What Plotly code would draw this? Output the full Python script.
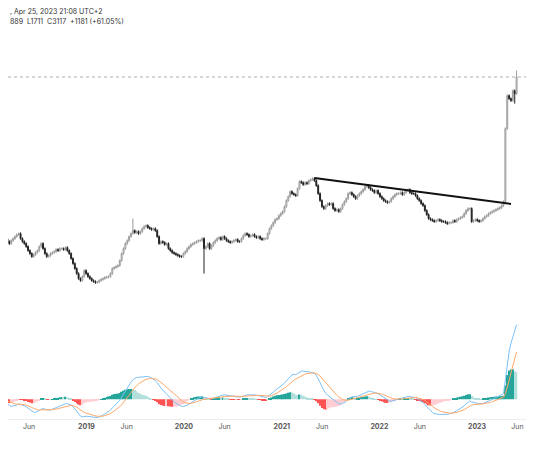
import plotly.graph_objects as go
from plotly.subplots import make_subplots
import pandas as pd

# weekly closes
closes = [
    1600, 1560, 1530, 1500, 1470, 1450, 1480, 1500, 1520, 1540, 1550,
    1500, 1470, 1450, 1420, 1380, 1350, 1320, 1340, 1360, 1380, 1420, 1450,
    1400, 1350, 1320, 1330, 1350, 1360, 1370, 1390, 1380, 1400, 1400, 1390, 1410, 1380,
    1350, 1300, 1250, 1200, 1150, 1100, 1080, 1120, 1180, 1150, 1120, 1100, 1080, 1070, 1060, 1065, 1080,
    1090, 1100, 1110, 1115, 1120, 1150, 1200, 1210, 1220, 1230, 1280, 1350, 1400, 1450, 1480, 1520, 1550, 1580,
    1560, 1570, 1550, 1570, 1600, 1620, 1630, 1610, 1600, 1590, 1600, 1580, 1520, 1450, 1470, 1460, 1440, 1450, 1400, 1380, 1360, 1350,
    1340, 1330, 1320, 1320, 1350, 1370, 1400, 1420, 1440, 1450, 1460, 1470, 1480, 1480, 1500, 1400, 1420, 1450, 1400,
    1430, 1460, 1480, 1500, 1510, 1490, 1520, 1500, 1480, 1470, 1460, 1470, 1480, 1490, 1470, 1470, 1500, 1530, 1550, 1540,
    1520, 1530, 1540, 1520, 1510, 1520, 1500, 1490, 1500, 1500,
    1550, 1600, 1630, 1660, 1690, 1700, 1730, 1750, 1770, 1820, 1880, 1920, 1970, 1950, 1940, 1930, 2000, 2070, 2060, 2040,
    2060, 2050, 2080, 2090, 2100, 2080, 2030,
    1950, 1880, 1820, 1800, 1830, 1850, 1840, 1850, 1800, 1780, 1790, 1770, 1800, 1840, 1870, 1900,
    1950, 1960, 1940, 1920, 1900, 1930, 1950, 1970, 1990, 2020, 2030, 2010, 1990, 1980, 1960, 1980, 1950, 1920, 1900,
    1880, 1870, 1860, 1870, 1900, 1920, 1940, 1950, 1950, 1960, 1940, 1960, 1980, 1990, 1960, 1950, 1950, 1930, 1900, 1880, 1850, 1830,
    1780, 1740, 1700, 1690, 1680, 1670, 1680, 1690, 1680, 1670, 1670, 1660, 1650, 1660, 1660, 1680, 1670, 1690, 1700, 1710,
    1720, 1750, 1780, 1800, 1800,
    1670, 1680, 1690, 1680, 1670, 1680, 1700, 1720, 1730, 1750, 1760, 1770, 1780, 1790, 1800, 1810, 1830, 1870,
    2600, 2930, 2900, 2880, 2980, 2950, 3117,
]
# a few long wicks: week index -> (high, low)
wicks = {71: (1700, None), 109: (None, 1150), 276: (3180, None), 275: (None, 2850), 270: (None, 1880)}
trend_idx = [168, 273]
trend_price = [2107, 1847]
tick_dates = ["2018-06-01", "2019-01-01", "2019-06-01", "2020-01-01", "2020-06-01", "2021-01-01",
              "2021-06-01", "2022-01-01", "2022-06-01", "2023-01-01", "2023-06-01"]
tick_text = ["Jun", "<b>2019</b>", "Jun", "<b>2020</b>", "Jun", "<b>2021</b>", "Jun",
             "<b>2022</b>", "Jun", "<b>2023</b>", "Jun"]

dates = pd.date_range(end="2023-05-29", periods=len(closes), freq="7D")
opens = [closes[0]] + closes[:-1]
highs, lows = [], []
for i, (o, c) in enumerate(zip(opens, closes)):
    h, l = max(o, c) + 12, min(o, c) - 12
    if i in wicks:
        wh, wl = wicks[i]
        h = wh or h
        l = wl or l
    highs.append(h)
    lows.append(l)

s = pd.Series(closes, index=dates)
macd = s.ewm(span=12, adjust=False).mean() - s.ewm(span=26, adjust=False).mean()
signal = macd.ewm(span=9, adjust=False).mean()
hist = macd - signal
hcol = []
prev = 0
for v in hist:
    if v >= 0:
        hcol.append("#26a69a" if v >= prev else "#b2dfdb")
    else:
        hcol.append("#ff5252" if v <= prev else "#ffcdd2")
    prev = v

fig = make_subplots(rows=2, cols=1, shared_xaxes=True)
fig.add_trace(go.Candlestick(
    x=dates, open=opens, high=highs, low=lows, close=closes,
    increasing=dict(line=dict(color="#9a9a9a", width=1), fillcolor="#ffffff"),
    decreasing=dict(line=dict(color="#222222", width=1), fillcolor="#222222"),
    whiskerwidth=0, showlegend=False), row=1, col=1)
fig.add_trace(go.Scatter(x=[dates[i] for i in trend_idx], y=trend_price, mode="lines",
                         line=dict(color="#111111", width=2), showlegend=False), row=1, col=1)
fig.add_hline(y=closes[-1], line=dict(color="#b0b0b0", width=1, dash="dot"), row=1, col=1)

fig.add_trace(go.Bar(x=dates, y=hist, marker_color=hcol, marker_line_width=0, showlegend=False), row=2, col=1)
fig.add_trace(go.Scatter(x=dates, y=macd, mode="lines", line=dict(color="#7cc0f5", width=1), showlegend=False), row=2, col=1)
fig.add_trace(go.Scatter(x=dates, y=signal, mode="lines", line=dict(color="#ffa868", width=1), showlegend=False), row=2, col=1)

lo = min(macd.min(), signal.min(), hist.min())
hi = max(macd.max(), signal.max(), hist.max())

fig.update_xaxes(range=["2018-03-14", "2023-09-01"], showgrid=False, rangeslider_visible=False,
                 zeroline=False, showticklabels=False)
fig.update_xaxes(showticklabels=True, tickvals=tick_dates, ticktext=tick_text, ticks="",
                 tickfont=dict(size=7, color="#555555"), showline=True, linecolor="#eeeeee", row=2, col=1)
fig.update_yaxes(showgrid=False, zeroline=False, showticklabels=False)
fig.update_yaxes(range=[717, 3777], domain=[0.277, 1], row=1, col=1)
fig.update_yaxes(range=[lo * 1.08, hi * 1.05], domain=[0.035, 0.267], row=2, col=1)

fig.add_annotation(x=0, y=1.0, xref="paper", yref="paper", text=", Apr 25, 2023 21:08 UTC+2",
                   showarrow=False, xanchor="left", yanchor="top", yshift=6,
                   font=dict(size=7, color="#333333"))
fig.add_annotation(x=0, y=1.0, xref="paper", yref="paper", text="889  L1711  C3117  +1181 (+61.05%)",
                   showarrow=False, xanchor="left", yanchor="top", yshift=-4,
                   font=dict(size=7, color="#333333"))

fig.update_layout(width=534, height=462, margin=dict(l=0, r=0, t=3, b=36, autoexpand=False),
                  plot_bgcolor="white", paper_bgcolor="white", bargap=0.3,
                  font=dict(family="Inter"))
fig.write_html("out.html")
